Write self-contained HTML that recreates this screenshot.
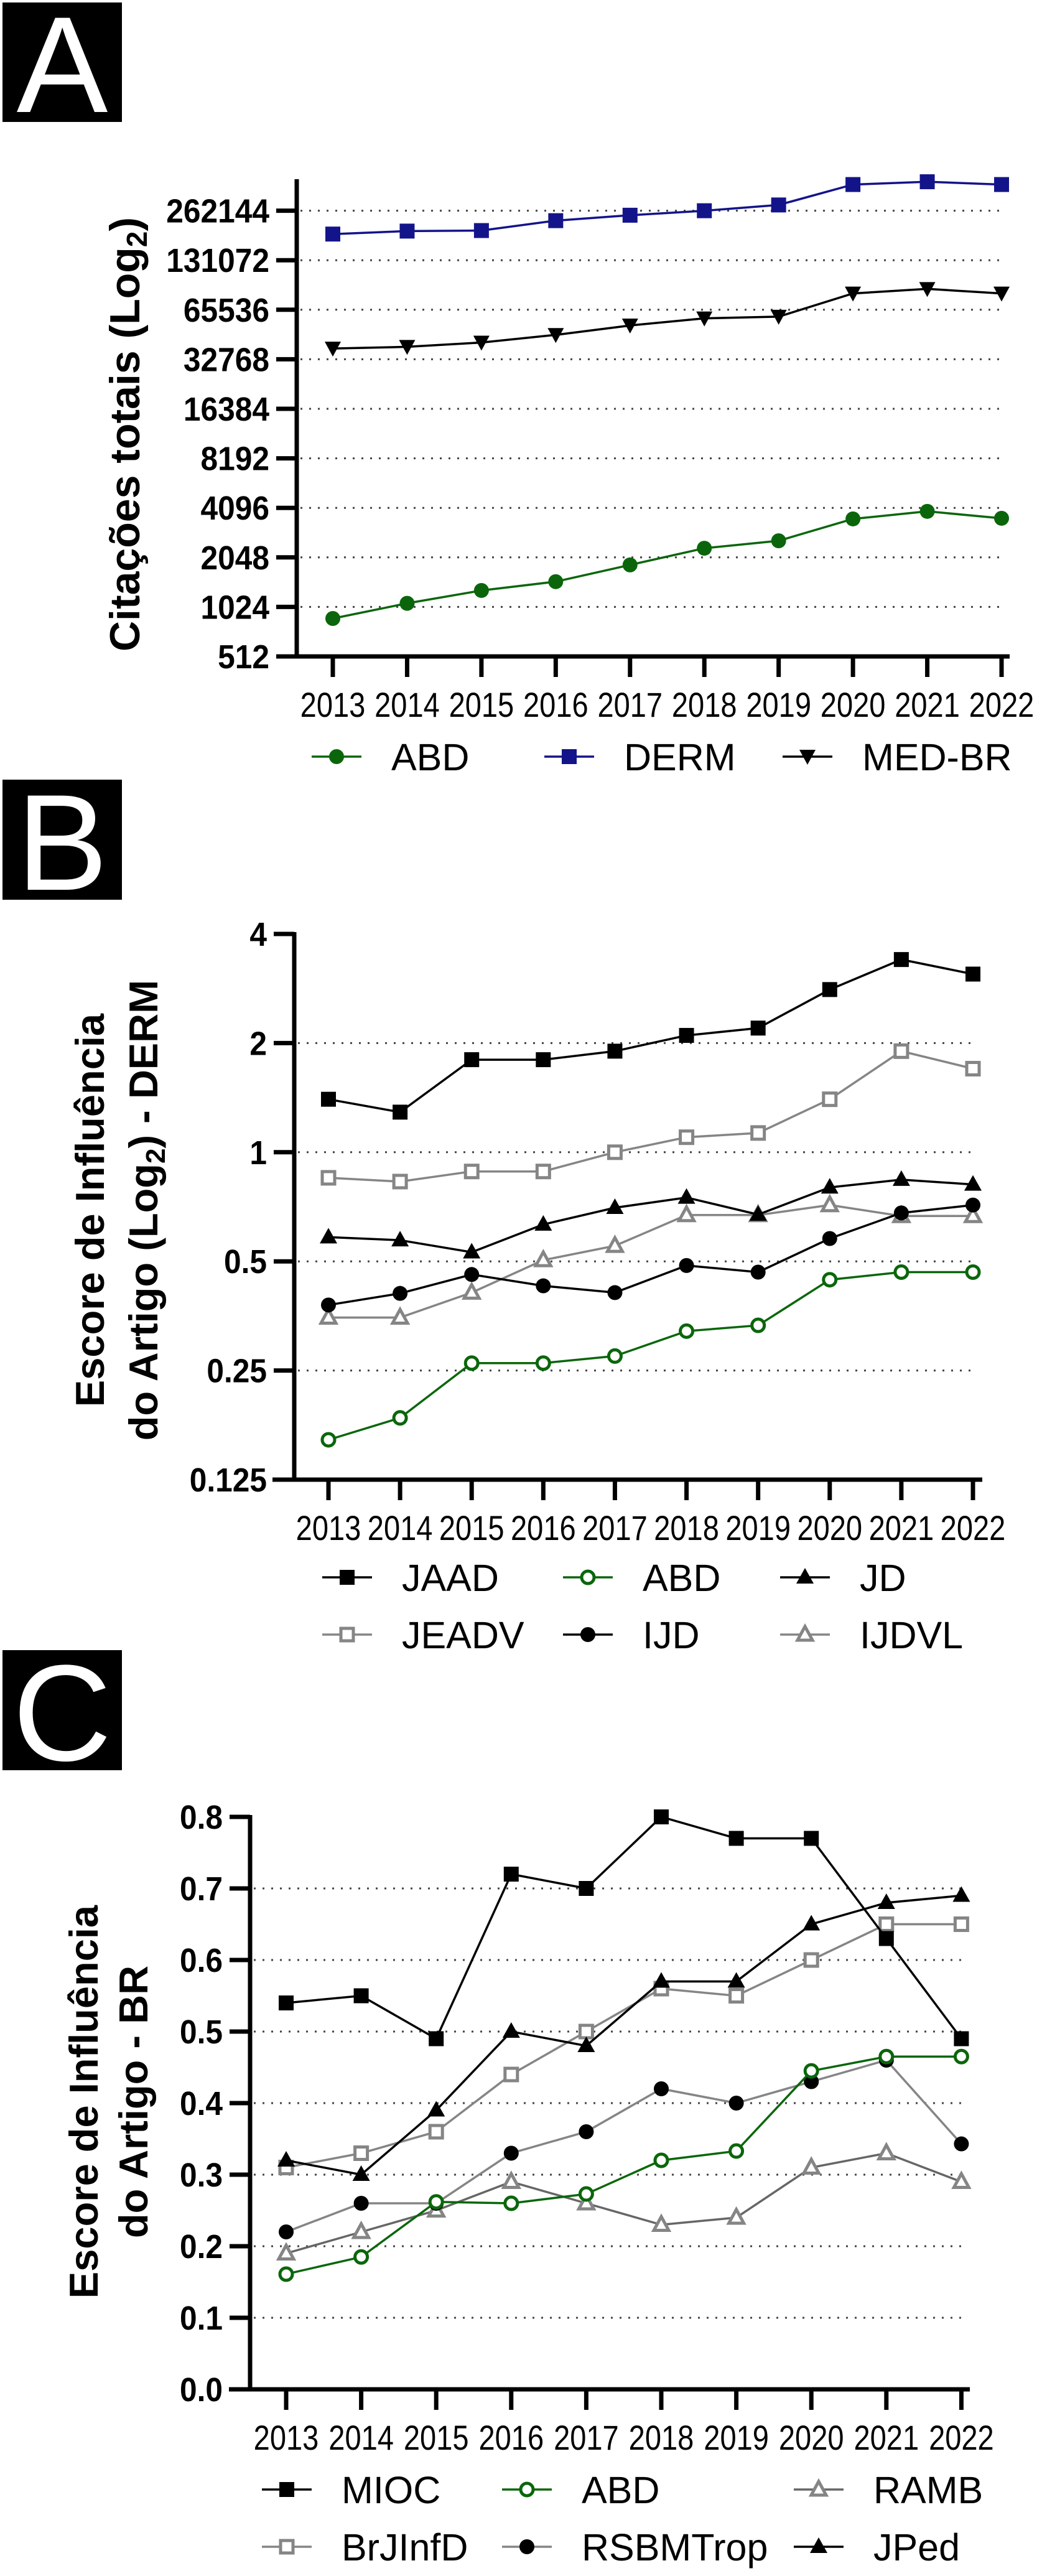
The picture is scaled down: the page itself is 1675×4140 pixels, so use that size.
<!DOCTYPE html>
<html><head><meta charset="utf-8"><style>
html,body{margin:0;padding:0;background:#fff;}
svg{display:block;font-family:"Liberation Sans",Arial,sans-serif;}
</style></head><body>
<svg id="fig" width="1675" height="4140" viewBox="0 0 1675 4140" xmlns="http://www.w3.org/2000/svg">
<rect x="0" y="0" width="1675" height="4140" fill="#fff"/>
<g><rect x="4" y="4" width="192" height="192" fill="#000"/><text x="100" y="180" font-size="220" fill="#fff" text-anchor="middle" font-weight="normal">A</text></g>
<g><rect x="4" y="1253" width="192" height="193" fill="#000"/><text x="100" y="1430" font-size="220" fill="#fff" text-anchor="middle">B</text></g>
<g><rect x="4" y="2652" width="192" height="193" fill="#000"/><text x="100" y="2829" font-size="220" fill="#fff" text-anchor="middle">C</text></g>

<text transform="translate(224,698) rotate(-90)" font-size="68" font-weight="bold" text-anchor="middle">Citações totais (Log<tspan font-size="46" dy="12">2</tspan><tspan dy="-12">)</tspan></text>
<g font-size="65" font-weight="bold" text-anchor="middle">
<text transform="translate(167,1945) rotate(-90)">Escore de Influência</text>
<text transform="translate(253,1945) rotate(-90)">do Artigo (Log<tspan font-size="44" dy="12">2</tspan><tspan dy="-12">) - DERM</tspan></text>
</g>
<g font-size="65" font-weight="bold" text-anchor="middle">
<text transform="translate(157,3378) rotate(-90)">Escore de Influência</text>
<text transform="translate(237,3378) rotate(-90)">do Artigo - BR</text>
</g>
<g id="charts"></g>
</svg>
<script>
// ---------- data ----------
const years = ["2013","2014","2015","2016","2017","2018","2019","2020","2021","2022"];
// Panel A
const aTicks = [512,1024,2048,4096,8192,16384,32768,65536,131072,262144];
const aABD = [871,1077,1289,1458,1843,2328,2583,3509,3900,3540];
const aDERM = [189000,197000,198500,228000,246000,262000,284000,378000,393000,378000];
const aMEDBR = [38100,39000,41400,46100,52600,58100,59500,82300,87700,82300];
// Panel B
const bTicks = [0.125,0.25,0.5,1,2,4];
const bTickLabels = ["0.125","0.25","0.5","1","2","4"];
const bJAAD = [1.40,1.29,1.80,1.80,1.90,2.10,2.20,2.81,3.40,3.10];
const bABD = [0.161,0.185,0.262,0.262,0.274,0.321,0.333,0.445,0.467,0.467];
const bJD = [0.583,0.572,0.530,0.632,0.703,0.750,0.673,0.800,0.840,0.815];
const bJEADV = [0.85,0.83,0.885,0.885,1.00,1.10,1.13,1.40,1.90,1.70];
const bIJD = [0.379,0.408,0.460,0.428,0.410,0.487,0.467,0.578,0.680,0.715];
const bIJDVL = [0.350,0.350,0.410,0.504,0.552,0.671,0.671,0.715,0.667,0.667];
// Panel C
const cTicks = [0,0.1,0.2,0.3,0.4,0.5,0.6,0.7,0.8];
const cTickLabels = ["0.0","0.1","0.2","0.3","0.4","0.5","0.6","0.7","0.8"];
const cMIOC = [0.54,0.55,0.49,0.72,0.70,0.80,0.77,0.77,0.63,0.49];
const cABD = [0.161,0.185,0.262,0.260,0.273,0.320,0.333,0.445,0.465,0.465];
const cRAMB = [0.19,0.22,0.25,0.29,0.26,0.23,0.24,0.31,0.33,0.29];
const cBrJInfD = [0.31,0.33,0.36,0.44,0.50,0.56,0.55,0.60,0.65,0.65];
const cRSBMTrop = [0.22,0.26,0.26,0.33,0.36,0.42,0.40,0.43,0.46,0.343];
const cJPed = [0.32,0.30,0.39,0.50,0.48,0.57,0.57,0.65,0.68,0.69];

const NS = "http://www.w3.org/2000/svg";
const root = document.getElementById('charts');
function mk(tag, attrs, parent){
  const e = document.createElementNS(NS, tag);
  for (const k in attrs) e.setAttribute(k, attrs[k]);
  (parent||root).appendChild(e);
  return e;
}
const GREEN = "#0b660b", NAVY = "#14148a", GRAY = "#858585";

function marker(g, type, x, y, col){
  let e;
  if (type === 'sq') e = mk('rect',{x:x-12,y:y-12,width:24,height:24,fill:col},g);
  else if (type === 'sqo') e = mk('rect',{x:x-10,y:y-10,width:20,height:20,fill:'#fff',stroke:col,'stroke-width':5},g);
  else if (type === 'ci') e = mk('circle',{cx:x,cy:y,r:12,fill:col},g);
  else if (type === 'cio') e = mk('circle',{cx:x,cy:y,r:10,fill:'#fff',stroke:col,'stroke-width':5},g);
  else if (type === 'tri') e = mk('path',{d:`M${x} ${y-15} L${x+14} ${y+10} L${x-14} ${y+10} Z`,fill:col},g);
  else if (type === 'trio') e = mk('path',{d:`M${x} ${y-13} L${x+12} ${y+9} L${x-12} ${y+9} Z`,fill:'#fff',stroke:col,'stroke-width':5,'stroke-linejoin':'miter'},g);
  else if (type === 'tridown') e = mk('path',{d:`M${x-13} ${y-11} L${x+13} ${y-11} L${x} ${y+13} Z`,fill:col},g);
  
  
  return e;
}

function drawPanel(p){
  const g = mk('g',{});
  
  
  const X = i => p.x0 + i*p.dx;
  // gridlines
  p.grid.forEach(v=>{
    const l = mk('line',{x1:p.ax+6,x2:p.gridEnd,y1:p.Y(v),y2:p.Y(v),stroke:'#444','stroke-width':3,'stroke-dasharray':'3 11'},g);
    
    
  });
  // axes
  const ya = mk('line',{x1:p.ax,x2:p.ax,y1:p.axTop,y2:p.xy+3.5,stroke:'#000','stroke-width':7},g);
  
  
  const xa = mk('line',{x1:p.xStart,x2:p.xEnd,y1:p.xy,y2:p.xy,stroke:'#000','stroke-width':7},g);
  
  
  // y ticks
  p.ticks.forEach((v,i)=>{
    const y = p.Y(v);
    mk('line',{x1:p.ax-33,x2:p.ax,y1:y,y2:y,stroke:'#000','stroke-width':7},g);
    const t = mk('text',{x:0,y:0,'font-size':54,'font-weight':'bold','text-anchor':'end',transform:`translate(${p.ax-44},${y+19}) scale(0.92,1)`},g);
    t.textContent = p.tickLabels[i];
    
    
  });
  // x ticks
  years.forEach((yr,i)=>{
    const x = X(i);
    mk('line',{x1:x,x2:x,y1:p.xy,y2:p.xy+33,stroke:'#000','stroke-width':7},g);
    const t = mk('text',{x:0,y:0,'font-size':56,'text-anchor':'middle',transform:`translate(${x},${p.xy+97}) scale(0.84,1)`},g);
    t.textContent = yr;
    
    
  });
  // series
  p.series.forEach(s=>{
    const sg = mk('g',{},g);
    
    
    const d = s.data.map((v,i)=>(i?'L':'M')+X(i).toFixed(1)+' '+p.Y(v).toFixed(1)).join(' ');
    mk('path',{d:d,fill:'none',stroke:s.line,'stroke-width':3.5},sg);
    s.data.forEach((v,i)=>marker(sg,s.m,X(i),p.Y(v),s.mc));
  });
  // legend
  p.series.forEach(s=>{
    const lg = mk('g',{},g);
    
    
    const [lx,ly] = s.leg;
    mk('line',{x1:lx-40,x2:lx+40,y1:ly,y2:ly,stroke:s.line,'stroke-width':3.5},lg);
    marker(lg,s.m,lx,ly,s.mc);
    const t = mk('text',{x:lx+88,y:ly+22,'font-size':61},lg);
    t.textContent = s.label;
  });
}

// Panel A
drawPanel({
  name:'chart-a-total-citations', x0:535, dx:(1610-535)/9,
  Y:v=>1055-79.6*(Math.log2(v)-9),
  ax:477, axTop:288, xy:1055, xStart:444, xEnd:1623, gridEnd:1613,
  ticks:aTicks, tickLabels:aTicks.map(String), grid:aTicks.slice(1),
  series:[
    {label:'ABD',data:aABD,line:GREEN,mc:GREEN,m:'ci',leg:[541,1216]},
    {label:'DERM',data:aDERM,line:NAVY,mc:NAVY,m:'sq',leg:[915,1216]},
    {label:'MED-BR',data:aMEDBR,line:'#000',mc:'#000',m:'tridown',leg:[1298,1216]}
  ]
});
// Panel B
drawPanel({
  name:'chart-b-article-influence-derm', x0:528, dx:(1564-528)/9,
  Y:v=>1501+175.4*(2-Math.log2(v)),
  ax:473, axTop:1498, xy:2378, xStart:438, xEnd:1579, gridEnd:1570,
  ticks:bTicks, tickLabels:bTickLabels, grid:[0.25,0.5,1,2],
  series:[
    {label:'JEADV',data:bJEADV,line:GRAY,mc:GRAY,m:'sqo',leg:[558,2627]},
    {label:'IJDVL',data:bIJDVL,line:GRAY,mc:GRAY,m:'trio',leg:[1294,2627]},
    {label:'JAAD',data:bJAAD,line:'#000',mc:'#000',m:'sq',leg:[558,2535]},
    {label:'JD',data:bJD,line:'#000',mc:'#000',m:'tri',leg:[1294,2535]},
    {label:'IJD',data:bIJD,line:'#000',mc:'#000',m:'ci',leg:[945,2627]},
    {label:'ABD',data:bABD,line:GREEN,mc:GREEN,m:'cio',leg:[945,2535]}
  ]
});
// Panel C
drawPanel({
  name:'chart-c-article-influence-br', x0:460, dx:120.6,
  Y:v=>3840-v*1150,
  ax:402, axTop:2917, xy:3840, xStart:368, xEnd:1559, gridEnd:1549,
  ticks:cTicks, tickLabels:cTickLabels, grid:[0.1,0.2,0.3,0.4,0.5,0.6,0.7],
  series:[
    {label:'RAMB',data:cRAMB,line:'#666',mc:GRAY,m:'trio',leg:[1316,4001]},
    {label:'BrJInfD',data:cBrJInfD,line:GRAY,mc:GRAY,m:'sqo',leg:[461,4093]},
    {label:'RSBMTrop',data:cRSBMTrop,line:GRAY,mc:'#000',m:'ci',leg:[847,4093]},
    {label:'JPed',data:cJPed,line:'#000',mc:'#000',m:'tri',leg:[1316,4093]},
    {label:'MIOC',data:cMIOC,line:'#000',mc:'#000',m:'sq',leg:[461,4001]},
    {label:'ABD',data:cABD,line:GREEN,mc:GREEN,m:'cio',leg:[847,4001]}
  ]
});
</script>
</body></html>
